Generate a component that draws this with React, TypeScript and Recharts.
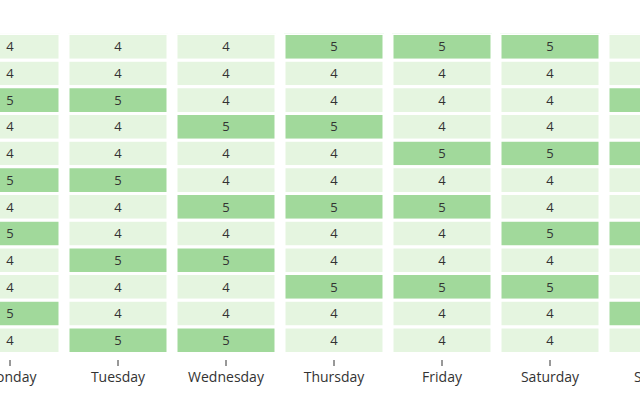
import React from 'react';
import { BarChart, Bar, XAxis, YAxis, Cell, LabelList } from 'recharts';

const days = ['Monday', 'Tuesday', 'Wednesday', 'Thursday', 'Friday', 'Saturday', 'Sunday'];

// one value per row, top to bottom
const monday = [4, 4, 5, 4, 4, 5, 4, 5, 4, 4, 5, 4];
const tuesday = [4, 4, 5, 4, 4, 5, 4, 4, 5, 4, 4, 5];
const wednesday = [4, 4, 4, 5, 4, 4, 5, 4, 5, 4, 4, 5];
const thursday = [5, 4, 4, 5, 4, 4, 5, 4, 4, 5, 4, 4];
const friday = [5, 4, 4, 4, 5, 4, 5, 4, 4, 5, 4, 4];
const saturday = [5, 4, 4, 4, 5, 4, 4, 5, 4, 5, 4, 4];
const sunday = [4, 4, 5, 4, 5, 4, 4, 5, 4, 4, 5, 4];

const columns = [monday, tuesday, wednesday, thursday, friday, saturday, sunday];
const rows = monday.map((_, r) => r);

const data = days.map((day, i) => {
    const entry: Record<string, string | number> = { day };
    rows.forEach((r) => {
        entry[`u${r}`] = 1;
        entry[`v${r}`] = columns[i][r];
    });
    return entry;
});

const colorFor = (v: number) => (v >= 5 ? '#a1d99b' : '#e5f5e0');

const App = () => (
    <div style={{ position: 'fixed', left: 0, top: 0, width: 640, height: 400, overflow: 'hidden', background: '#fff' }}>
        <div style={{ position: 'absolute', left: -44, top: 0, fontFamily: '"Open Sans", sans-serif' }}>
            <BarChart
                width={756}
                height={400}
                data={data}
                barCategoryGap={4}
                margin={{ top: 33.5, right: 0, left: 0, bottom: 10 }}
            >
                <XAxis
                    dataKey="day"
                    axisLine={false}
                    tickLine={{ stroke: '#333' }}
                    tick={{ fill: '#333', fontSize: 14 }}
                    tickMargin={6}
                    interval={0}
                    height={30}
                />
                <YAxis hide type="number" domain={[0, 12.24]} reversed allowDataOverflow />
                {rows.map((r) => (
                    <Bar
                        key={r}
                        dataKey={`u${r}`}
                        stackId="a"
                        stroke="#fff"
                        strokeWidth={3}
                        isAnimationActive={false}
                    >
                        {data.map((d, i) => (
                            <Cell key={i} fill={colorFor(columns[i][r])} />
                        ))}
                        <LabelList dataKey={`v${r}`} position="center" fill="#333" fontSize={13} />
                    </Bar>
                ))}
            </BarChart>
        </div>
    </div>
);

export default App;
